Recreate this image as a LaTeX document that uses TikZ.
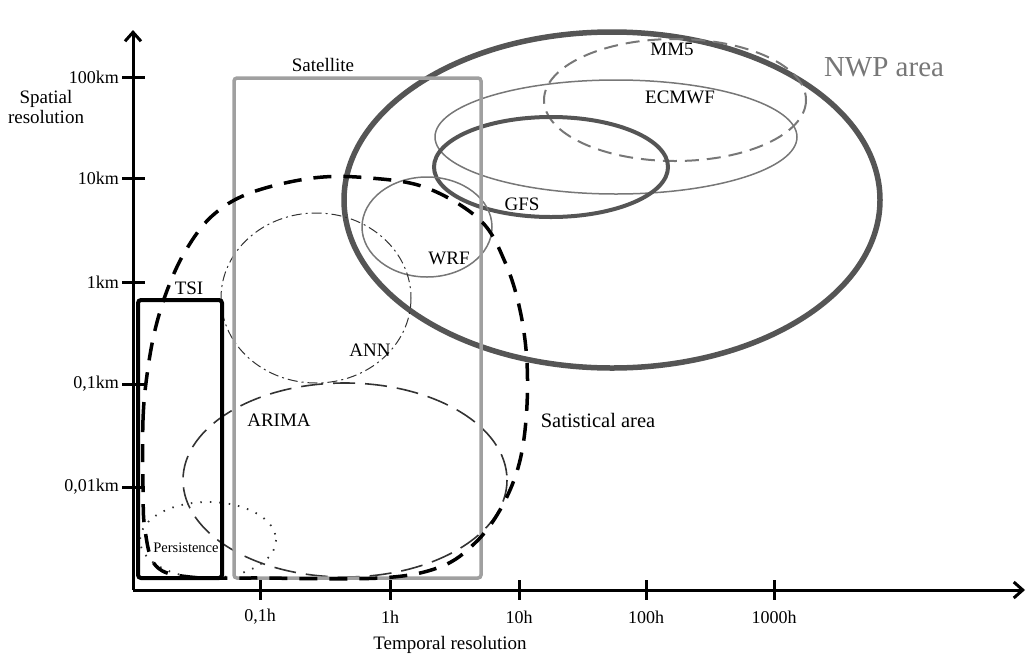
\documentclass[tikz,border=0pt]{standalone}
\usepackage{fontspec}
\setmainfont{Liberation Serif}
\usetikzlibrary{arrows.meta}
\definecolor{nwpgray}{HTML}{555555}
\definecolor{midgray}{HTML}{777777}
\definecolor{satgray}{HTML}{A0A0A0}
\definecolor{darkline}{HTML}{333333}
\tikzset{
  axisline/.style={line width=3pt, black},
  tickline/.style={line width=3pt, black},
  lab/.style={font=\fontsize{19}{21}\selectfont, inner sep=0pt},
  ticklab/.style={font=\fontsize{18}{20}\selectfont, inner sep=0pt},
  nwpline/.style={line width=5.5pt, nwpgray},
  gfsline/.style={line width=4pt, nwpgray},
  thinline/.style={line width=1.5pt, midgray},
  mmline/.style={line width=2pt, midgray, dash pattern=on 14pt off 8pt},
  annline/.style={line width=1pt, darkline, dash pattern=on 10pt off 4pt on 2pt off 4pt},
  arimaline/.style={line width=1.6pt, darkline, dash pattern=on 22pt off 10pt},
  persline/.style={line width=1.8pt, darkline, dash pattern=on 1.5pt off 8pt},
  statline/.style={line width=3.5pt, black, dash pattern=on 18pt off 12pt},
  satbox/.style={line width=3.5pt, satgray, rounded corners=3pt},
  tsibox/.style={line width=4pt, black, rounded corners=3pt},
}
\begin{document}
\begin{tikzpicture}[x=1pt,y=-1pt]
\useasboundingbox (0,0) rectangle (1027,654);
% NWP models
\draw[nwpline] (612,200) ellipse [x radius=268, y radius=168];
\draw[mmline] (675,100) ellipse [x radius=131, y radius=61];
\draw[thinline] (616,137) ellipse [x radius=181, y radius=57];
\draw[gfsline] (551,167) ellipse [x radius=117, y radius=50];
\draw[thinline] (427,227) ellipse [x radius=65, y radius=50];
% statistical models
\draw[annline] (316,298) ellipse [x radius=95, y radius=85];
\draw[arimaline] (345,480) ellipse [x radius=162, y radius=97];
\draw[persline] (208,540) ellipse [x radius=68, y radius=38];
% boxes
\draw[satbox] (234,78) rectangle (481,578);
\draw[tsibox] (138,300) rectangle (222,578);
% statistical area
\draw[statline] plot[smooth cycle, tension=0.6] coordinates {
 (143,487) (143,420) (147,375) (155,330) (168,288) (186,250) (212,216)
 (250,193) (313,178) (370,178) (427,188) (480,220) (505,262) (520,310)
 (527,363) (526,420) (518,468) (500,510) (475,543) (440,567) (380,578)
 (260,578) (190,577) (156,566) (145,530)};
% axes
\coordinate (O) at (133,590);
\coordinate (ytop) at (133,30);
\coordinate (xend) at (1025,590);
\draw[axisline, -{Straight Barb[length=9pt,width=16pt]}] (O) -- (ytop);
\draw[axisline, -{Straight Barb[length=9pt,width=16pt]}] (O) -- (xend);
% y ticks
\foreach \yy/\tl/\nm in {77/100km/ya, 178/10km/yb, 282/1km/yc, 384/{0,1km}/yd, 487/{0,01km}/ye}{
  \coordinate (\nm l) at (122,\yy);
  \coordinate (\nm r) at (145,\yy);
  \draw[tickline] (\nm l) -- (\nm r);
  \node[ticklab, anchor=east] (\nm t) at (119,\yy) {\tl};
}
% x ticks
\foreach \xx/\tl/\nm in {260/{0,1h}/xa, 390/1h/xb, 519/10h/xc, 646/100h/xd, 774/1000h/xe}{
  \coordinate (\nm u) at (\xx,580);
  \coordinate (\nm d) at (\xx,600);
  \draw[tickline] (\nm u) -- (\nm d);
  \node[ticklab] (\nm t) at (\xx,617) {\tl};
}
% axis titles
\node[lab, align=center] (spatial) at (46,107) {Spatial\\[-1pt]resolution};
\node[lab] (temporal) at (450,645) {Temporal resolution};
% labels
\node[lab] (mm5) at (672,49) {MM5};
\node[lab] (ecmwf) at (680,97) {ECMWF};
\node[lab] (gfs) at (522,204) {GFS};
\node[lab] (wrf) at (449,258) {WRF};
\node[lab] (ann) at (370,350) {ANN};
\node[lab] (arima) at (279,420) {ARIMA};
\node[lab] (tsi) at (189,288) {TSI};
\node[lab] (sat) at (323,65) {Satellite};
\node[font=\fontsize{14.5}{16}\selectfont, inner sep=0pt] (pers) at (186,548) {Persistence};
\node[font=\fontsize{29}{32}\selectfont, inner sep=0pt, text=midgray] (nwp) at (884,67) {NWP area};
\node[font=\fontsize{20.5}{23}\selectfont, inner sep=0pt] (stat) at (598,420) {Satistical area};
\end{tikzpicture}
\end{document}
